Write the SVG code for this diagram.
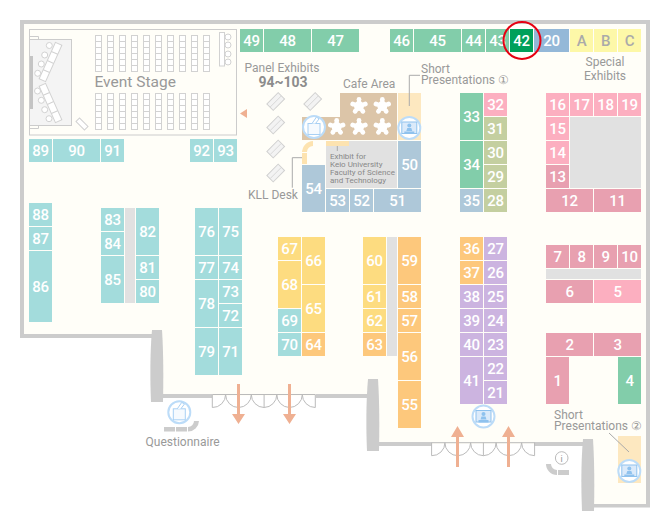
<svg xmlns="http://www.w3.org/2000/svg" width="670" height="520" viewBox="0 0 670 520">
<style>
text{font-family:"Roboto","Liberation Sans",sans-serif}
.n{font-size:15px;font-weight:500;letter-spacing:-.4px;fill:#fff;text-anchor:middle}
.l{font-size:12px;fill:#999}
.wall{fill:#ccc}
.ln{fill:none;stroke:#aaa;stroke-width:1}
.door{fill:none;stroke:#bbb;stroke-width:1}
.seat{fill:#fff;stroke:#d2d2d2;stroke-width:1}
.ic{fill:#fff;stroke:#bcdcf8;stroke-width:2}
.arr{fill:#efb092}
.g{fill:#e1e1e1}
.teal{fill:#a3dcdc}.grn{fill:#82cdaa}.blu{fill:#aec8d9}.pnk{fill:#fcafc0}.dpk{fill:#e8a0b0}.olv{fill:#c4cfa0}.yel{fill:#fddc80}.org{fill:#fdc87c}.pur{fill:#ccb4e0}.lem{fill:#fdf8a8}.sky{fill:#94b8d8}.dgr{fill:#00a05a}
</style>
<defs>
<g id="col"><rect class="seat" x="0" y="0" width="6" height="6"/><rect class="seat" x="0" y="6" width="6" height="6"/><rect class="seat" x="0" y="12" width="6" height="6"/><rect class="seat" x="0" y="18" width="6" height="6"/><rect class="seat" x="0" y="24" width="6" height="6"/><rect class="seat" x="0" y="30" width="6" height="6"/></g>
<g id="flower" fill="#fff"><circle r="5"/><g id="arm"><rect x="-2" y="-6.500" width="4" height="5"/><circle cy="-6.600" r="2.400"/></g><use href="#arm" transform="rotate(72)"/><use href="#arm" transform="rotate(144)"/><use href="#arm" transform="rotate(216)"/><use href="#arm" transform="rotate(288)"/></g>
<g id="panel"><rect x="-8" y="-4.500" width="16" height="9" fill="#f3f3f3" stroke="#d0d0d0" transform="rotate(-45)"/><path d="M-5.500,5.500L5.500,-5.500" stroke="#d0d0d0" stroke-width=".8"/></g>
<g id="ballot"><circle class="ic" r="11"/><rect x="-6" y="-3.500" width="12" height="11" fill="#f6fafe" stroke="#a8d0f4"/><path d="M-2,-3.500L2.500,-10L5,-8L1.500,-3.500" fill="#fff" stroke="#a8d0f4"/></g>
<g id="screen"><circle class="ic" r="11"/><rect x="-7.500" y="-6" width="15" height="11.500" fill="#dbeafa" stroke="#8fc2ee"/><circle cy="-2.500" r="2" fill="#8fc2ee"/><path d="M-3,3L-2,0H2L3,3ZM-5,3.500H5V6H-5Z" fill="#8fc2ee"/></g>
<g id="door"><path class="door" d="M0,0H103M0,0V13A13,13 0 0 0 13.300,0A13,13 0 0 0 26.500,13A13,13 0 0 0 39,0A13,13 0 0 0 51.800,13V0M51.800,13A13,13 0 0 0 64.500,0A13,13 0 0 0 77,13A13,13 0 0 0 90,0A13,13 0 0 0 103,13V0"/></g>
</defs>
<rect width="670" height="520" fill="#fff"/>
<g id="floor">
<path d="M22,22H648V506H590V444H372V396H160V336H22Z" fill="#fffef8"/>
<path class="wall" d="M20,20H650V507.500H590V504H646V24H24V334H155V338H20Z"/>
<rect class="wall" x="160" y="394" width="52" height="4"/>
<rect class="wall" x="316" y="394" width="54" height="4"/>
<rect class="wall" x="376" y="442" width="56" height="4"/>
<rect class="wall" x="534" y="442" width="50" height="4"/>
<path class="wall" d="M152,330H162C163.500,352 163.500,380 163,402H151C150,380 150,352 152,330Z"/>
<path class="wall" d="M368,379H378C379.500,402 379.500,428 379,451H367C366,428 366,402 368,379Z"/>
<path class="wall" d="M583,439H593C594.500,462 594.500,488 594,511H582C581,488 581,462 583,439Z"/>
<use href="#door" x="212.300" y="394.500"/>
<use href="#door" x="431.600" y="442.700"/>
</g>
<g id="event-stage">
<rect x="29.500" y="29.500" width="207" height="105.500" fill="none" stroke="#ccc"/>
<path d="M29.500,39.500V36.500H38.500V39.500M29.500,125.500V128.500H38.500V125.500" fill="none" stroke="#ccc"/>
<rect x="29.500" y="39.500" width="42" height="86" fill="#f4f4f4" stroke="#ccc"/>
<rect x="30" y="56" width="3" height="53" fill="#c4c4c4"/>
<g id="tables">
<rect class="seat" x="-3.500" y="-20" width="7" height="40" transform="translate(50.500,62) rotate(24)"/>
<path d="M-3.500,-10H3.500M-3.500,0H3.500M-3.500,10H3.500" transform="translate(50.500,62) rotate(24)" stroke="#d2d2d2" fill="none"/>
<rect class="seat" x="-3.500" y="-20" width="7" height="40" transform="translate(50.500,103) rotate(-24)"/>
<path d="M-3.500,-10H3.500M-3.500,0H3.500M-3.500,10H3.500" transform="translate(50.500,103) rotate(-24)" stroke="#d2d2d2" fill="none"/>
<circle class="seat" cx="49.300" cy="45.500" r="3"/><circle class="seat" cx="44.700" cy="55" r="3"/><circle class="seat" cx="41.300" cy="64" r="3"/><circle class="seat" cx="37.700" cy="73.300" r="3"/>
<circle class="seat" cx="37.500" cy="91" r="3"/><circle class="seat" cx="41.300" cy="100.300" r="3"/><circle class="seat" cx="44.700" cy="109.700" r="3"/><circle class="seat" cx="49" cy="118.700" r="3"/>
</g>
<rect class="seat" x="-6" y="-2.500" width="12" height="5" transform="translate(82,124) rotate(45)"/>
<use href="#col" x="95.500" y="35.500"/><use href="#col" x="107.500" y="35.500"/><use href="#col" x="119.500" y="35.500"/><use href="#col" x="131.500" y="35.500"/><use href="#col" x="143.500" y="35.500"/><use href="#col" x="155.500" y="35.500"/><use href="#col" x="167.500" y="35.500"/><use href="#col" x="179.500" y="35.500"/><use href="#col" x="191.500" y="35.500"/><use href="#col" x="203.500" y="35.500"/>
<use href="#col" x="95.500" y="93.500"/><use href="#col" x="107.500" y="93.500"/><use href="#col" x="119.500" y="93.500"/><use href="#col" x="131.500" y="93.500"/><use href="#col" x="143.500" y="93.500"/><use href="#col" x="155.500" y="93.500"/><use href="#col" x="167.500" y="93.500"/><use href="#col" x="179.500" y="93.500"/><use href="#col" x="191.500" y="93.500"/><use href="#col" x="203.500" y="93.500"/>
<rect class="seat" x="219.500" y="32.500" width="5" height="33.500"/>
<circle class="seat" cx="228" cy="37" r="3"/><circle class="seat" cx="228" cy="45" r="3"/><circle class="seat" cx="228" cy="54" r="3"/><circle class="seat" cx="228" cy="62" r="3"/>
<text x="94.500" y="87" font-size="15.500" fill="#999">Event Stage</text>
</g>
<g id="grey-areas">
<rect class="g" x="125" y="208" width="10" height="95"/>
<rect class="g" x="387" y="237" width="10" height="119"/>
<rect class="g" x="326" y="141" width="71" height="47"/>
<rect class="g" x="570" y="117" width="71" height="71"/>
<rect class="g" x="546" y="269" width="95" height="10"/>
</g>
<g id="cafe">
<path d="M340,93H397V140H302V117H340Z" fill="#dcc5a8"/>
<use href="#flower" x="359" y="106"/><use href="#flower" x="382.300" y="106"/><use href="#flower" x="336.700" y="127"/><use href="#flower" x="359" y="127"/><use href="#flower" x="382.300" y="127"/>
<text class="l" x="343" y="88">Cafe Area</text>
</g>
<g id="short1">
<rect x="398" y="93" width="23" height="47" fill="#fde8c0"/>
<use href="#screen" x="409.300" y="128"/>
<text class="l" x="421" y="73.300">Short</text>
<text class="l" x="421" y="84">Presentations ①</text>
</g>
<g id="kll">
<path d="M302,164V153A11,12 0 0 1 313,141V146A6,6 0 0 0 307,152V164Z" fill="#fde3b0"/>
<rect x="302" y="152" width="6" height="1" fill="#fffef8"/>
<rect x="326" y="141" width="23" height="5" fill="#fde3b0"/>
<text class="l" x="248" y="199">KLL Desk</text>
<g font-size="8" fill="#888"><text x="330" y="159">Exhibit for</text><text x="330" y="167">Keio University</text><text x="330" y="175">Faculty of Science</text><text x="330" y="183">and Technology</text></g>
</g>
<g id="panels">
<use href="#panel" x="275.700" y="101.500"/><use href="#panel" x="275.700" y="125"/><use href="#panel" x="275.700" y="149"/><use href="#panel" x="275.700" y="173"/><use href="#panel" x="312.700" y="101.500"/>
<text class="l" x="244.500" y="71.700">Panel Exhibits</text>
<text x="283" y="87" font-size="14" font-weight="700" fill="#8c8c8c" text-anchor="middle">94~103</text>
<use href="#ballot" x="314" y="127"/>
</g>
<g id="booths">
<g id="b49"><rect class="grn" x="240" y="29" width="23" height="23"/><text class="n" x="251.500" y="46">49</text></g>
<g id="b48"><rect class="grn" x="264" y="29" width="47" height="23"/><text class="n" x="287.500" y="46">48</text></g>
<g id="b47"><rect class="grn" x="312" y="29" width="47" height="23"/><text class="n" x="335.500" y="46">47</text></g>
<g id="b46"><rect class="grn" x="390" y="29" width="23" height="23"/><text class="n" x="401.500" y="46">46</text></g>
<g id="b45"><rect class="grn" x="414" y="29" width="47" height="23"/><text class="n" x="437.500" y="46">45</text></g>
<g id="b44"><rect class="grn" x="462" y="29" width="23" height="23"/><text class="n" x="473.500" y="46">44</text></g>
<g id="b43"><rect class="grn" x="486" y="29" width="23" height="23"/><text class="n" x="497.500" y="46">43</text></g>
<g id="b20"><rect class="sky" x="534" y="29" width="35" height="23"/><text class="n" x="551.500" y="46">20</text></g>
<g id="bA"><rect class="lem" x="570" y="29" width="23" height="23"/><text class="n" x="581.500" y="46" style="fill:#aaa">A</text></g>
<g id="bB"><rect class="lem" x="594" y="29" width="23" height="23"/><text class="n" x="605.500" y="46" style="fill:#aaa">B</text></g>
<g id="bC"><rect class="lem" x="618" y="29" width="23" height="23"/><text class="n" x="629.500" y="46" style="fill:#aaa">C</text></g>
<g id="b42"><rect x="509" y="28" width="25" height="25" fill="#fff"/><rect class="dgr" x="510" y="29" width="23" height="23"/><text class="n" x="521.500" y="46">42</text></g>
<g id="b89"><rect class="teal" x="29" y="139" width="23" height="23"/><text class="n" x="40.500" y="156">89</text></g>
<g id="b90"><rect class="teal" x="53" y="139" width="47" height="23"/><text class="n" x="76.500" y="156">90</text></g>
<g id="b91"><rect class="teal" x="101" y="139" width="23" height="23"/><text class="n" x="112.500" y="156">91</text></g>
<g id="b92"><rect class="teal" x="190" y="139" width="23" height="23"/><text class="n" x="201.500" y="156">92</text></g>
<g id="b93"><rect class="teal" x="214" y="139" width="23" height="23"/><text class="n" x="225.500" y="156">93</text></g>
<g id="b88"><rect class="teal" x="29" y="203" width="23" height="23"/><text class="n" x="40.500" y="220">88</text></g>
<g id="b87"><rect class="teal" x="29" y="227" width="23" height="23"/><text class="n" x="40.500" y="244">87</text></g>
<g id="b86"><rect class="teal" x="29" y="251" width="23" height="71"/><text class="n" x="40.500" y="292">86</text></g>
<g id="b83"><rect class="teal" x="101" y="208" width="23" height="23"/><text class="n" x="112.500" y="225">83</text></g>
<g id="b84"><rect class="teal" x="101" y="232" width="23" height="23"/><text class="n" x="112.500" y="249">84</text></g>
<g id="b85"><rect class="teal" x="101" y="256" width="23" height="47"/><text class="n" x="112.500" y="285">85</text></g>
<g id="b82"><rect class="teal" x="136" y="208" width="23" height="47"/><text class="n" x="147.500" y="237">82</text></g>
<g id="b81"><rect class="teal" x="136" y="256" width="23" height="23"/><text class="n" x="147.500" y="273">81</text></g>
<g id="b80"><rect class="teal" x="136" y="280" width="23" height="23"/><text class="n" x="147.500" y="297">80</text></g>
<g id="b76"><rect class="teal" x="195" y="208" width="23" height="47"/><text class="n" x="206.500" y="237">76</text></g>
<g id="b75"><rect class="teal" x="219" y="208" width="23" height="47"/><text class="n" x="230.500" y="237">75</text></g>
<g id="b77"><rect class="teal" x="195" y="256" width="23" height="23"/><text class="n" x="206.500" y="273">77</text></g>
<g id="b74"><rect class="teal" x="219" y="256" width="23" height="23"/><text class="n" x="230.500" y="273">74</text></g>
<g id="b78"><rect class="teal" x="195" y="280" width="23" height="47"/><text class="n" x="206.500" y="309">78</text></g>
<g id="b73"><rect class="teal" x="219" y="280" width="23" height="23"/><text class="n" x="230.500" y="297">73</text></g>
<g id="b72"><rect class="teal" x="219" y="304" width="23" height="23"/><text class="n" x="230.500" y="321">72</text></g>
<g id="b79"><rect class="teal" x="195" y="328" width="23" height="47"/><text class="n" x="206.500" y="357">79</text></g>
<g id="b71"><rect class="teal" x="219" y="328" width="23" height="47"/><text class="n" x="230.500" y="357">71</text></g>
<g id="b67"><rect class="yel" x="278" y="237" width="23" height="23"/><text class="n" x="289.500" y="254">67</text></g>
<g id="b68"><rect class="yel" x="278" y="261" width="23" height="47"/><text class="n" x="289.500" y="290">68</text></g>
<g id="b69"><rect class="teal" x="278" y="309" width="23" height="23"/><text class="n" x="289.500" y="326">69</text></g>
<g id="b70"><rect class="teal" x="278" y="333" width="23" height="23"/><text class="n" x="289.500" y="350">70</text></g>
<g id="b66"><rect class="yel" x="302" y="237" width="23" height="47"/><text class="n" x="313.500" y="266">66</text></g>
<g id="b65"><rect class="yel" x="302" y="285" width="23" height="47"/><text class="n" x="313.500" y="314">65</text></g>
<g id="b64"><rect class="org" x="302" y="333" width="23" height="23"/><text class="n" x="313.500" y="350">64</text></g>
<g id="b60"><rect class="yel" x="363" y="237" width="23" height="47"/><text class="n" x="374.500" y="266">60</text></g>
<g id="b61"><rect class="yel" x="363" y="285" width="23" height="23"/><text class="n" x="374.500" y="302">61</text></g>
<g id="b62"><rect class="yel" x="363" y="309" width="23" height="23"/><text class="n" x="374.500" y="326">62</text></g>
<g id="b63"><rect class="org" x="363" y="333" width="23" height="23"/><text class="n" x="374.500" y="350">63</text></g>
<g id="b59"><rect class="org" x="398" y="237" width="23" height="47"/><text class="n" x="409.500" y="266">59</text></g>
<g id="b58"><rect class="org" x="398" y="285" width="23" height="23"/><text class="n" x="409.500" y="302">58</text></g>
<g id="b57"><rect class="org" x="398" y="309" width="23" height="23"/><text class="n" x="409.500" y="326">57</text></g>
<g id="b56"><rect class="org" x="398" y="333" width="23" height="47"/><text class="n" x="409.500" y="362">56</text></g>
<g id="b55"><rect class="org" x="398" y="381" width="23" height="47"/><text class="n" x="409.500" y="410">55</text></g>
<g id="b36"><rect class="org" x="460" y="237" width="23" height="23"/><text class="n" x="471.500" y="254">36</text></g>
<g id="b37"><rect class="org" x="460" y="261" width="23" height="23"/><text class="n" x="471.500" y="278">37</text></g>
<g id="b38"><rect class="pur" x="460" y="285" width="23" height="23"/><text class="n" x="471.500" y="302">38</text></g>
<g id="b39"><rect class="pur" x="460" y="309" width="23" height="23"/><text class="n" x="471.500" y="326">39</text></g>
<g id="b40"><rect class="pur" x="460" y="333" width="23" height="23"/><text class="n" x="471.500" y="350">40</text></g>
<g id="b41"><rect class="pur" x="460" y="357" width="23" height="47"/><text class="n" x="471.500" y="386">41</text></g>
<g id="b27"><rect class="pur" x="484" y="237" width="23" height="23"/><text class="n" x="495.500" y="254">27</text></g>
<g id="b26"><rect class="pur" x="484" y="261" width="23" height="23"/><text class="n" x="495.500" y="278">26</text></g>
<g id="b25"><rect class="pur" x="484" y="285" width="23" height="23"/><text class="n" x="495.500" y="302">25</text></g>
<g id="b24"><rect class="pur" x="484" y="309" width="23" height="23"/><text class="n" x="495.500" y="326">24</text></g>
<g id="b23"><rect class="pur" x="484" y="333" width="23" height="23"/><text class="n" x="495.500" y="350">23</text></g>
<g id="b22"><rect class="pur" x="484" y="357" width="23" height="23"/><text class="n" x="495.500" y="374">22</text></g>
<g id="b21"><rect class="pur" x="484" y="381" width="23" height="23"/><text class="n" x="495.500" y="398">21</text></g>
<g id="b33"><rect class="grn" x="460" y="93" width="23" height="47"/><text class="n" x="471.500" y="122">33</text></g>
<g id="b34"><rect class="grn" x="460" y="141" width="23" height="47"/><text class="n" x="471.500" y="170">34</text></g>
<g id="b35"><rect class="blu" x="460" y="189" width="23" height="23"/><text class="n" x="471.500" y="206">35</text></g>
<g id="b32"><rect class="pnk" x="484" y="93" width="23" height="23"/><text class="n" x="495.500" y="110">32</text></g>
<g id="b31"><rect class="olv" x="484" y="117" width="23" height="23"/><text class="n" x="495.500" y="134">31</text></g>
<g id="b30"><rect class="olv" x="484" y="141" width="23" height="23"/><text class="n" x="495.500" y="158">30</text></g>
<g id="b29"><rect class="olv" x="484" y="165" width="23" height="23"/><text class="n" x="495.500" y="182">29</text></g>
<g id="b28"><rect class="olv" x="484" y="189" width="23" height="23"/><text class="n" x="495.500" y="206">28</text></g>
<g id="b16"><rect class="pnk" x="546" y="93" width="23" height="23"/><text class="n" x="557.500" y="110">16</text></g>
<g id="b17"><rect class="pnk" x="570" y="93" width="23" height="23"/><text class="n" x="581.500" y="110">17</text></g>
<g id="b18"><rect class="pnk" x="594" y="93" width="23" height="23"/><text class="n" x="605.500" y="110">18</text></g>
<g id="b19"><rect class="pnk" x="618" y="93" width="23" height="23"/><text class="n" x="629.500" y="110">19</text></g>
<g id="b15"><rect class="pnk" x="546" y="117" width="23" height="23"/><text class="n" x="557.500" y="134">15</text></g>
<g id="b14"><rect class="pnk" x="546" y="141" width="23" height="23"/><text class="n" x="557.500" y="158">14</text></g>
<g id="b13"><rect class="dpk" x="546" y="165" width="23" height="23"/><text class="n" x="557.500" y="182">13</text></g>
<g id="b12"><rect class="dpk" x="546" y="189" width="47" height="23"/><text class="n" x="569.500" y="206">12</text></g>
<g id="b11"><rect class="dpk" x="594" y="189" width="47" height="23"/><text class="n" x="617.500" y="206">11</text></g>
<g id="b7"><rect class="dpk" x="546" y="245" width="23" height="23"/><text class="n" x="557.500" y="262">7</text></g>
<g id="b8"><rect class="dpk" x="570" y="245" width="23" height="23"/><text class="n" x="581.500" y="262">8</text></g>
<g id="b9"><rect class="dpk" x="594" y="245" width="23" height="23"/><text class="n" x="605.500" y="262">9</text></g>
<g id="b10"><rect class="dpk" x="618" y="245" width="23" height="23"/><text class="n" x="629.500" y="262">10</text></g>
<g id="b6"><rect class="dpk" x="546" y="280" width="47" height="23"/><text class="n" x="569.500" y="297">6</text></g>
<g id="b5"><rect class="pnk" x="594" y="280" width="47" height="23"/><text class="n" x="617.500" y="297">5</text></g>
<g id="b2"><rect class="dpk" x="546" y="333" width="47" height="23"/><text class="n" x="569.500" y="350">2</text></g>
<g id="b3"><rect class="dpk" x="594" y="333" width="47" height="23"/><text class="n" x="617.500" y="350">3</text></g>
<g id="b1"><rect class="dpk" x="546" y="357" width="23" height="47"/><text class="n" x="557.500" y="386">1</text></g>
<g id="b4"><rect class="grn" x="618" y="357" width="23" height="47"/><text class="n" x="629.500" y="386">4</text></g>
<g id="b54"><rect class="blu" x="302" y="165" width="23" height="47"/><text class="n" x="313.500" y="194">54</text></g>
<g id="b53"><rect class="blu" x="326" y="189" width="23" height="23"/><text class="n" x="337.500" y="206">53</text></g>
<g id="b52"><rect class="blu" x="350" y="189" width="23" height="23"/><text class="n" x="361.500" y="206">52</text></g>
<g id="b51"><rect class="blu" x="374" y="189" width="47" height="23"/><text class="n" x="397.500" y="206">51</text></g>
<g id="b50"><rect class="blu" x="398" y="141" width="23" height="47"/><text class="n" x="409.500" y="170">50</text></g>
</g>
<g id="special"><text class="l" x="605" y="66" text-anchor="middle">Special</text><text class="l" x="605" y="80" text-anchor="middle">Exhibits</text></g>
<g id="short2">
<rect x="618" y="436" width="23" height="47" fill="#fde8c0"/>
<use href="#screen" x="629.300" y="471"/>
<text class="l" x="554" y="419">Short</text>
<text class="l" x="554" y="430">Presentations ②</text>
</g>
<g id="short3"><use href="#screen" x="483.500" y="416.500"/></g>
<g id="questionnaire">
<use href="#ballot" x="179.300" y="412.300"/>
<rect class="wall" x="164" y="427" width="11" height="4.500"/><rect class="wall" x="176" y="427" width="11" height="4.500"/>
<path class="wall" d="M188,427A6,6 0 0 0 194,421H199A11,11 0 0 1 188,431.500Z"/>
<text class="l" x="145.600" y="446">Questionnaire</text>
</g>
<g id="info">
<circle cx="561.700" cy="458" r="6.300" fill="#fff" stroke="#bbb"/>
<text x="561.700" y="461.500" font-size="9" fill="#999" text-anchor="middle">i</text>
<path class="wall" d="M546,464H551A6,6 0 0 0 557,470V475A11,11 0 0 1 546,464Z"/>
<rect class="wall" x="558" y="470" width="11" height="5"/>
</g>
<g id="connectors">
<path class="ln" d="M409.300,106V75.300H420"/>
<path class="ln" d="M302,157.700H292.300V187.700"/>
<path class="ln" d="M337.300,146V151"/>
<path class="ln" d="M609,433L629,452"/>
<path class="arr" d="M237,384H240V414H245L238.500,424L232,414H237Z"/>
<path class="arr" d="M288,384H291V414H296L289.500,424L283,414H288Z"/>
<path class="arr" d="M456,467H459V437H464L457.500,426L451,437H456Z"/>
<path class="arr" d="M507,467H510V437H515L508.500,426L502,437H507Z"/>
<path class="arr" d="M240,113.500L247,109V118Z"/>
</g>
<circle id="highlight" cx="522" cy="40.500" r="18.500" fill="none" stroke="#e60012" stroke-width="2"/>
</svg>
